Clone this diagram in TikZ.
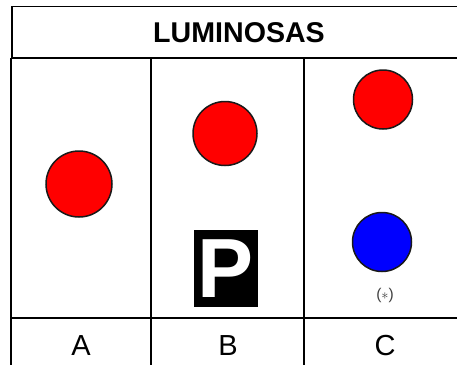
\documentclass[tikz,border=0pt]{standalone}
\usepackage{fontspec}
\setmainfont{Liberation Sans}
\tikzset{
  rule/.style={draw=black,line width=1.9bp},
  lamp/.style={circle,draw=black!90,line width=1.5bp,inner sep=0pt,minimum size=#1},
  lbl/.style={inner sep=0pt,text=black}
}
\begin{document}
\begin{tikzpicture}[x=1bp,y=-1bp]
\useasboundingbox (0,0) rectangle (457,365);
\fill[white] (0,0) rectangle (457,365);
% table rules
\coordinate (tl) at (12,6.5);
\coordinate (tr) at (457,6.5);
\coordinate (hl) at (11,58);
\coordinate (hr) at (457,58);
\coordinate (bl) at (11,318);
\coordinate (br) at (457,318);
\coordinate (el) at (11,365);
\coordinate (v1t) at (151,58);
\coordinate (v1b) at (151,365);
\coordinate (v2t) at (304,58);
\coordinate (v2b) at (304,365);
\draw[rule] (tr) -- (tl) -- (12,58);
\draw[rule] (hl) -- (hr);
\draw[rule] (bl) -- (br);
\draw[rule] (hl) -- (el);
\draw[rule] (v1t) -- (v1b);
\draw[rule] (v2t) -- (v2b);
% title and labels
\node[lbl,font=\bfseries\fontsize{28.6bp}{30bp}\selectfont] (title) at (239,32.5) {LUMINOSAS};
\node[lbl,font=\fontsize{29bp}{30bp}\selectfont] (a) at (81,345.5) {A};
\node[lbl,font=\fontsize{29bp}{30bp}\selectfont] (b) at (228,345.5) {B};
\node[lbl,font=\fontsize{29bp}{30bp}\selectfont] (c) at (385,345.5) {C};
% lamps
\node[lamp=66bp,fill=red] (la) at (79,184) {};
\node[lamp=64bp,fill=red] (lb) at (225,133.5) {};
\node[lamp=59bp,fill=red] (lc) at (383,99.5) {};
\node[lamp=59bp,fill=blue] (ld) at (382,242) {};
\node[lbl,font=\fontsize{15.5bp}{16bp}\selectfont,text=black!75] (star) at (385,295.5) {($*$)};
% parking sign
\node[fill=black,minimum width=64bp,minimum height=77bp,inner sep=0pt,text=white,font=\bfseries\fontsize{84bp}{84bp}\selectfont] (p) at (225.5,268.5) {P};
\end{tikzpicture}
\end{document}
